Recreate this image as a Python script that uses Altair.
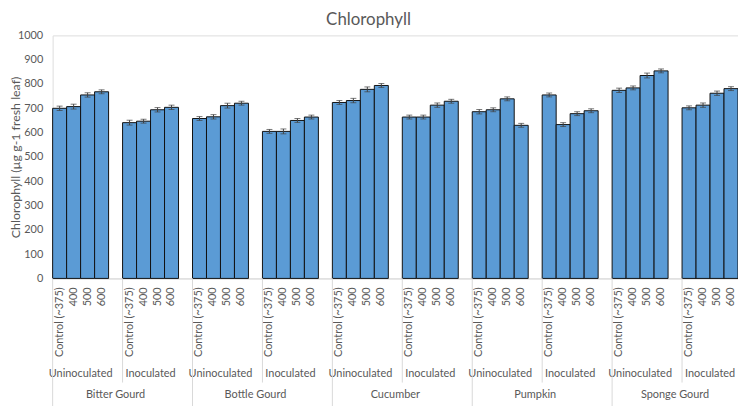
import altair as alt
import pandas as pd

crops = ["Bitter Gourd", "Bottle Gourd", "Cucumber", "Pumpkin", "Sponge Gourd"]
inoculations = ["Uninoculated", "Inoculated"]
co2_levels = ["Control (~375)", "400", "500", "600"]

# chlorophyll values (µg g-1 fresh leaf), per crop: [uninoculated x4, inoculated x4]
bitter_gourd = [700, 707, 755, 768, 641, 647, 694, 704]
bottle_gourd = [658, 665, 711, 721, 605, 605, 650, 664]
cucumber = [724, 732, 778, 794, 664, 664, 713, 729]
pumpkin = [686, 694, 739, 630, 755, 633, 678, 690]
sponge_gourd = [774, 784, 835, 854, 702, 713, 762, 781]

bitter_gourd_err = [9, 10, 9, 8, 10, 8, 9, 9]
bottle_gourd_err = [8, 9, 10, 8, 8, 10, 8, 8]
cucumber_err = [8, 9, 10, 8, 8, 8, 9, 8]
pumpkin_err = [9, 8, 8, 8, 8, 8, 8, 8]
sponge_gourd_err = [9, 8, 10, 8, 8, 9, 9, 8]

y_ticks = [0, 100, 200, 300, 400, 500, 600, 700, 800, 900, 1000]

values = [bitter_gourd, bottle_gourd, cucumber, pumpkin, sponge_gourd]
errors = [bitter_gourd_err, bottle_gourd_err, cucumber_err, pumpkin_err, sponge_gourd_err]

rows = []
domain = []
seps = []
inoc_labels = []
crop_labels = []
gap_i = 0
for ci, crop in enumerate(crops):
    for ii, inoc in enumerate(inoculations):
        if domain:
            gk = f"gap{gap_i}"
            gap_i += 1
            domain.append(gk)
            if ii == 1:
                crop_labels.append({"key": gk, "label": crop})
        for li, lvl in enumerate(co2_levels):
            key = f"{crop}|{inoc}|{lvl}"
            domain.append(key)
            v = values[ci][ii * 4 + li]
            e = errors[ci][ii * 4 + li]
            rows.append({"key": key, "crop": crop, "inoc": inoc, "co2": lvl,
                         "value": v, "lo": v - e, "hi": v + e})
            if li == 0:
                seps.append({"key": key, "kind": "crop" if ii == 0 else "inoc"})
            if li == 2:
                inoc_labels.append({"key": key, "label": inoc})

df = pd.DataFrame(rows)
sep_df = pd.DataFrame(seps)
inoc_df = pd.DataFrame(inoc_labels)
crop_df = pd.DataFrame(crop_labels)

FONT = "Lato"
GRAY = "#595959"
W, H = 691, 245
YTITLE = "Chlorophyll (µg g-1 fresh leaf)"

xscale = alt.Scale(domain=domain, paddingInner=0, paddingOuter=0)
yscale = alt.Scale(domain=[0, 1000], nice=False)
xaxis = alt.Axis(labels=False, ticks=False, title=None, domain=True,
                 domainColor="#d9d9d9", domainWidth=1, grid=False)
yaxis = alt.Axis(values=y_ticks, format="d", labelOverlap=False,
                 grid=False, domain=False, ticks=False, labelPadding=10,
                 labelFont=FONT, labelFontSize=11, labelColor=GRAY,
                 title=YTITLE,
                 titleFont=FONT, titleFontSize=12.5, titleFontWeight="normal",
                 titleColor=GRAY, titleAngle=270, titleX=-37, titleY=H / 2,
                 titleAlign="center", titleBaseline="middle")


def X(**kw):
    return alt.X("key:N", scale=xscale, sort=None, axis=xaxis, **kw)


def Y(field):
    return alt.Y(field, scale=yscale, axis=yaxis, title=YTITLE)


base = alt.Chart(df)

bars = base.mark_bar(color="#5B9BD5", stroke="#111111", strokeWidth=1).encode(
    x=X(), y=Y("value:Q"))

err = base.mark_rule(color="#404040", strokeWidth=1).encode(
    x=X(), y=Y("lo:Q"), y2="hi:Q")
cap_lo = base.mark_tick(color="#404040", thickness=1, size=6).encode(
    x=X(), y=Y("lo:Q"))
cap_hi = base.mark_tick(color="#404040", thickness=1, size=6).encode(
    x=X(), y=Y("hi:Q"))

co2_text = base.mark_text(angle=270, align="right", baseline="middle", font=FONT,
                          fontSize=11, color=GRAY).encode(
    x=X(), y=alt.value(H + 9), text="co2:N")

inoc_text = alt.Chart(inoc_df).mark_text(align="center", baseline="middle", font=FONT,
                                         fontSize=11, color=GRAY).encode(
    x=X(bandPosition=0), y=alt.value(H + 96), text="label:N")

crop_text = alt.Chart(crop_df).mark_text(align="center", baseline="middle", font=FONT,
                                         fontSize=11, color=GRAY).encode(
    x=X(), y=alt.value(H + 118), text="label:N")

sep_inoc = alt.Chart(sep_df).transform_filter(alt.datum.kind == "inoc").mark_rule(
    color="#d9d9d9", strokeWidth=1).encode(
    x=X(bandPosition=0), y=alt.value(H), y2=alt.value(H + 105))

sep_crop = alt.Chart(sep_df).transform_filter(alt.datum.kind == "crop").mark_rule(
    color="#d9d9d9", strokeWidth=1).encode(
    x=X(bandPosition=0), y=alt.value(H), y2=alt.value(H + 135))

chart = alt.layer(bars, err, cap_lo, cap_hi, co2_text, inoc_text, crop_text,
                  sep_inoc, sep_crop).properties(
    width=W, height=H,
    title=alt.TitleParams("Chlorophyll", font=FONT, fontSize=17, fontWeight="normal",
                          color=GRAY, anchor="middle", dx=-27, offset=1),
    autosize=alt.AutoSizeParams(type="none"),
    padding={"left": 45, "top": 26, "right": 0, "bottom": 127},
).configure_view(stroke=None).configure(background="white")

chart.save("out.html", embed_options={"renderer": "svg", "actions": False})
